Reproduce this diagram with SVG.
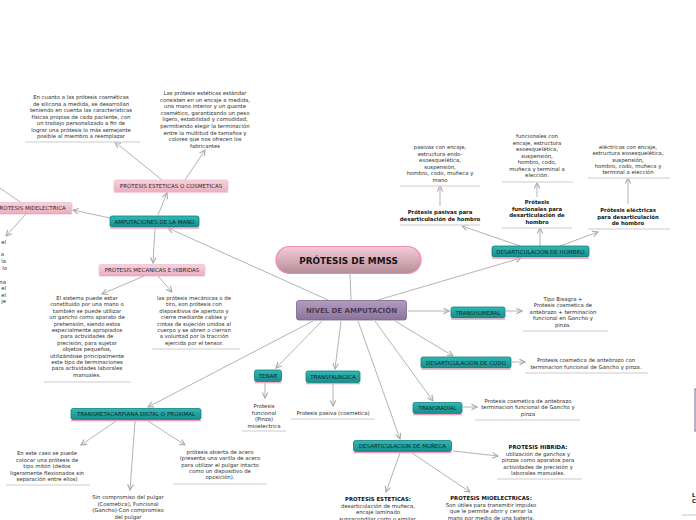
<svg xmlns="http://www.w3.org/2000/svg" width="696" height="520" viewBox="0 0 696 520">
<defs>
<linearGradient id="gt" x1="0" y1="0" x2="0" y2="1"><stop offset="0" stop-color="#2fbab6"/><stop offset="1" stop-color="#178d8b"/></linearGradient>
<linearGradient id="gp" x1="0" y1="0" x2="0" y2="1"><stop offset="0" stop-color="#f7d3dc"/><stop offset="1" stop-color="#eab0c0"/></linearGradient>
<linearGradient id="gm" x1="0" y1="0" x2="0" y2="1"><stop offset="0" stop-color="#f6ccd7"/><stop offset="1" stop-color="#b48c98"/></linearGradient>
<linearGradient id="gn" x1="0" y1="0" x2="0" y2="1"><stop offset="0" stop-color="#b39cc0"/><stop offset="1" stop-color="#8c739c"/></linearGradient>
<marker id="a" viewBox="0 0 10 10" refX="9" refY="5" markerWidth="7" markerHeight="7" orient="auto" markerUnits="userSpaceOnUse"><path d="M1,1 L9,5 L1,9" fill="none" stroke="#aaaaaa" stroke-width="1.6"/></marker>
</defs>
<style>
text{font-family:"DejaVu Sans","Liberation Sans",Arial,sans-serif;}
.c{stroke:#b4b4b4;stroke-width:1;fill:none;}
.ca{stroke:#b4b4b4;stroke-width:1;fill:none;marker-end:url(#a);}
.t{fill:url(#gt);stroke:#157f7d;stroke-width:0.8;}
.tl{stroke:#f29ab6;stroke-width:1.2;}
.tt{font-size:5.5px;fill:#0b2929;text-anchor:middle;}
.p{fill:url(#gp);stroke:#f0c0cf;stroke-width:0.8;}
.pl{stroke:#e79bb2;stroke-width:1;}
.pt{font-size:5.5px;fill:#33242a;text-anchor:middle;}
.b{font-size:5.35px;fill:#2e2e2e;text-anchor:middle;}
.bb{font-size:5.35px;fill:#111;text-anchor:middle;font-weight:bold;}
.u{stroke:#dcdcdc;stroke-width:1.6;}
</style>

<g id="connectors">
<line class="c" x1="350" y1="274" x2="351" y2="300"/>
<line class="ca" x1="328" y1="300" x2="168" y2="228"/>
<line class="ca" x1="378" y1="300" x2="521" y2="258"/>
<line class="ca" x1="408" y1="311" x2="449" y2="311"/>
<line class="ca" x1="395" y1="321" x2="453" y2="356"/>
<line class="ca" x1="375" y1="321" x2="433" y2="401"/>
<line class="ca" x1="358" y1="321" x2="400" y2="439"/>
<line class="ca" x1="341" y1="321" x2="335" y2="369"/>
<line class="ca" x1="322" y1="321" x2="276" y2="368"/>
<line class="ca" x1="313" y1="321" x2="148" y2="407"/>
<line class="ca" x1="158" y1="215" x2="167" y2="193"/>
<line class="ca" x1="110" y1="218" x2="73" y2="210"/>
<line class="ca" x1="155" y1="228" x2="153" y2="263"/>
<line class="ca" x1="162" y1="180" x2="115" y2="142"/>
<line class="ca" x1="185" y1="180" x2="205" y2="150"/>
<line class="c" x1="20" y1="202" x2="0" y2="188"/>
<line class="ca" x1="26" y1="214" x2="6" y2="236"/>
<line class="ca" x1="144" y1="276" x2="102" y2="294"/>
<line class="ca" x1="158" y1="276" x2="172" y2="292"/>
<line class="ca" x1="520" y1="246" x2="462" y2="226"/>
<line class="ca" x1="540" y1="246" x2="540" y2="228"/>
<line class="ca" x1="560" y1="246" x2="598" y2="232"/>
<line class="ca" x1="440" y1="206" x2="440" y2="186"/>
<line class="ca" x1="537" y1="197" x2="537" y2="183"/>
<line class="ca" x1="628" y1="204" x2="628" y2="178"/>
<line class="ca" x1="506" y1="311" x2="522" y2="311"/>
<line class="ca" x1="512" y1="362" x2="525" y2="362"/>
<line class="ca" x1="463" y1="407" x2="477" y2="407"/>
<line class="ca" x1="453" y1="451" x2="498" y2="456"/>
<line class="ca" x1="412" y1="453" x2="470" y2="492"/>
<line class="ca" x1="400" y1="453" x2="386" y2="492"/>
<line class="ca" x1="265" y1="383" x2="265" y2="398"/>
<line class="ca" x1="333" y1="384" x2="333" y2="406"/>
<line class="ca" x1="116" y1="421" x2="81" y2="445"/>
<line class="ca" x1="148" y1="421" x2="185" y2="445"/>
<line class="ca" x1="135" y1="421" x2="130" y2="490"/>
</g>

<g id="mmss">
<rect x="276" y="246.5" width="145" height="27" rx="13.5" fill="url(#gm)" stroke="#ee8db0" stroke-width="1.2"/>
<text x="348.5" y="264" text-anchor="middle" font-size="8.9px" font-weight="bold" fill="#1a1214">PRÓTESIS DE MMSS</text>
</g>

<g id="nivel">
<rect x="296.5" y="300.5" width="110" height="19.5" rx="2.5" fill="url(#gn)" stroke="#7b628c" stroke-width="0.8"/>
<text x="351.5" y="313.2" text-anchor="middle" font-size="7px" font-weight="bold" fill="#4a3d55">NIVEL DE AMPUTACIÓN</text>
</g>

<g id="amputaciones">
<rect class="t" x="110" y="216" width="89" height="11" rx="2"/><line class="tl" x1="110" y1="228.2" x2="199" y2="228.2"/>
<text class="tt" x="154.5" y="223.7">AMPUTACIONES DE LA MANO</text>
</g>

<g id="esteticas">
<rect class="p" x="114" y="180" width="114" height="11.5" rx="2"/><line class="pl" x1="114" y1="192" x2="228" y2="192"/>
<text class="pt" x="171" y="187.9">PRÓTESIS ESTETICAS O COSMETICAS</text>
</g>

<g id="midelectrica">
<rect class="p" x="-20" y="202.5" width="92" height="11" rx="2"/><line class="pl" x1="-20" y1="213.8" x2="72" y2="213.8"/>
<text class="pt" x="31" y="210.1">PRÓTESIS MIDELECTRICA</text>
</g>

<g id="mecanicas">
<rect class="p" x="99" y="264.5" width="106" height="11" rx="2"/><line class="pl" x1="99" y1="275.8" x2="205" y2="275.8"/>
<text class="pt" x="152" y="272.1">PRÓTESIS MECANICAS E HIBRIDAS</text>
</g>

<g id="txt-cosmeticas">
<text class="b" x="81" y="99"><tspan x="81">En cuanto a las  prótesis cosméticas</tspan><tspan x="81" dy="6.5">de silicona a medida,  se desarrollan</tspan><tspan x="81" dy="6.5">teniendo en cuenta las características</tspan><tspan x="81" dy="6.5">físicas propias de cada paciente, con</tspan><tspan x="81" dy="6.5">un trabajo personalizado a fin de</tspan><tspan x="81" dy="6.5">lograr una prótesis lo más semejante</tspan><tspan x="81" dy="6.5">posible al miembro a reemplazar</tspan></text>
<line class="u" x1="25" y1="142" x2="140" y2="142"/>
</g>

<g id="txt-estandar">
<text class="b" x="205" y="95"><tspan x="205">Las prótesis estéticas estándar</tspan><tspan x="205" dy="6.6">consisten en un encaje a medida,</tspan><tspan x="205" dy="6.6">una mano interior y un guante</tspan><tspan x="205" dy="6.6">cosmético, garantizando un peso</tspan><tspan x="205" dy="6.6">ligero, estabilidad y comodidad,</tspan><tspan x="205" dy="6.6">permitiendo elegir la terminación</tspan><tspan x="205" dy="6.6">entre la multitud de tamaños y</tspan><tspan x="205" dy="6.6">colores que nos ofrecen los</tspan><tspan x="205" dy="6.6">fabricantes</tspan></text>
</g>

<g id="txt-left-edge">
<text class="b" style="text-anchor:end"><tspan x="6" y="244">el</tspan><tspan x="4" y="256">a</tspan><tspan x="6" y="263">la</tspan><tspan x="7" y="270">lo</tspan><tspan x="6" y="284">na</tspan><tspan x="6" y="290">el</tspan><tspan x="6" y="297">el</tspan><tspan x="6" y="303">je</tspan></text>
</g>

<g id="txt-mec-left">
<text class="b" x="87" y="300"><tspan x="87">El sistema puede estar</tspan><tspan x="87" dy="6.4">constituido por una mano o</tspan><tspan x="87" dy="6.4">también se puede utilizar</tspan><tspan x="87" dy="6.4">un gancho como aparato de</tspan><tspan x="87" dy="6.4">prehensión, siendo estos</tspan><tspan x="87" dy="6.4">especialmente apropiados</tspan><tspan x="87" dy="6.4">para actividades de</tspan><tspan x="87" dy="6.4">precisión, para sujetar</tspan><tspan x="87" dy="6.4">objetos pequeños,</tspan><tspan x="87" dy="6.4">utilizándose principalmente</tspan><tspan x="87" dy="6.4">este tipo de terminaciones</tspan><tspan x="87" dy="6.4">para actividades laborales</tspan><tspan x="87" dy="6.4">manuales.</tspan></text>
<line class="u" x1="44" y1="382" x2="131" y2="382"/>
</g>

<g id="txt-mec-right">
<text class="b" x="194" y="300"><tspan x="194">las prótesis mecánicas o de</tspan><tspan x="194" dy="6.4">tiro, son prótesis con</tspan><tspan x="194" dy="6.4">dispositivos de apertura y</tspan><tspan x="194" dy="6.4">cierre mediante cables y</tspan><tspan x="194" dy="6.4">cintas de sujeción unidos al</tspan><tspan x="194" dy="6.4">cuerpo y se abren o cierran</tspan><tspan x="194" dy="6.4">a voluntad por la tracción</tspan><tspan x="194" dy="6.4">ejercida por el tensor.</tspan></text>
<line class="u" x1="152" y1="349" x2="240" y2="349"/>
</g>

<g id="hombro">
<rect class="t" x="492" y="246" width="97" height="11" rx="2"/><line class="tl" x1="492" y1="258.2" x2="589" y2="258.2"/>
<text class="tt" x="540.5" y="253.7">DESARTICULACIÓN DE HOMBRO</text>
</g>

<g id="pasivas">
<text class="bb"><tspan x="440" y="214">Prótesis pasivas para</tspan><tspan x="440" y="220.5">desarticulación de hombro</tspan></text>
<line class="u" x1="400" y1="225" x2="480" y2="225"/>
</g>
<g id="txt-pasivas">
<text class="b"><tspan x="440" y="149">pasivas con encaje,</tspan><tspan x="440" dy="6.5">estructura endo-</tspan><tspan x="440" dy="6.5">exoesquelética,</tspan><tspan x="440" dy="6.5">suspensión,</tspan><tspan x="440" dy="6.5">hombro, codo, muñeca y</tspan><tspan x="440" dy="6.5">mano</tspan></text>
<line class="u" x1="400" y1="186" x2="480" y2="186"/>
</g>

<g id="funcionales">
<text class="bb"><tspan x="537" y="204">Prótesis</tspan><tspan x="537" dy="6.5">funcionales para</tspan><tspan x="537" dy="6.5">desarticulación de</tspan><tspan x="537" dy="6.5">hombro</tspan></text>
<line class="u" x1="502" y1="228" x2="572" y2="228"/>
</g>
<g id="txt-funcionales">
<text class="b"><tspan x="537" y="138">funcionales con</tspan><tspan x="537" dy="6.5">encaje, estructura</tspan><tspan x="537" dy="6.5">exoesquelética,</tspan><tspan x="537" dy="6.5">suspensión,</tspan><tspan x="537" dy="6.5">hombro, codo,</tspan><tspan x="537" dy="6.5">muñeca y terminal a</tspan><tspan x="537" dy="6.5">elección.</tspan></text>
<line class="u" x1="502" y1="182" x2="573" y2="182"/>
</g>

<g id="electricas">
<text class="bb"><tspan x="628" y="212">Prótesis eléctricas</tspan><tspan x="628" dy="6.5">para desarticulación</tspan><tspan x="628" dy="6.5">de hombro</tspan></text>
<line class="u" x1="588" y1="229" x2="670" y2="229"/>
</g>
<g id="txt-electricas">
<text class="b"><tspan x="628" y="149">eléctricas con encaje,</tspan><tspan x="628" dy="6.3">estructura exoesquelética,</tspan><tspan x="628" dy="6.3">suspensión,</tspan><tspan x="628" dy="6.3">hombro, codo, muñeca y</tspan><tspan x="628" dy="6.3">terminal a elección</tspan></text>
<line class="u" x1="588" y1="178" x2="670" y2="178"/>
</g>

<g id="transhumeral">
<rect class="t" x="451" y="307" width="54" height="11" rx="2"/><line class="tl" x1="451" y1="319.2" x2="505" y2="319.2"/>
<text class="tt" x="478" y="314.7">TRANSHUMERAL</text>
</g>
<g id="txt-transhumeral">
<text class="b"><tspan x="563" y="301">Tipo Bisagra +</tspan><tspan x="563" dy="6.4">Protesis cosmetica de</tspan><tspan x="563" dy="6.4">antebrazo + terminacion</tspan><tspan x="563" dy="6.4">funcional en Gancho y</tspan><tspan x="563" dy="6.4">pinza.</tspan></text>
<line class="u" x1="523" y1="331" x2="608" y2="331"/>
</g>

<g id="codo">
<rect class="t" x="421" y="357" width="90" height="11" rx="2"/><line class="tl" x1="421" y1="369.2" x2="511" y2="369.2"/>
<text class="tt" x="466" y="364.7">DESARTICULACIÓN DE CODO</text>
</g>
<g id="txt-codo">
<text class="b"><tspan x="586" y="362">Protesis cosmetica de antebrazo con</tspan><tspan x="586" dy="6.8">terminacion funcional de Gancho y pinza.</tspan></text>
<line class="u" x1="525" y1="373" x2="648" y2="373"/>
</g>

<g id="transradial">
<rect class="t" x="413" y="402.5" width="49" height="11" rx="2"/><line class="tl" x1="413" y1="414.7" x2="462" y2="414.7"/>
<text class="tt" x="437.5" y="410.1">TRANSRADIAL</text>
</g>
<g id="txt-transradial">
<text class="b"><tspan x="528" y="403">Protesis cosmetica de antebrazo</tspan><tspan x="528" dy="6.4">terminacion funcional de Gancho y</tspan><tspan x="528" dy="6.4">pinza</tspan></text>
<line class="u" x1="475" y1="420" x2="580" y2="420"/>
</g>

<g id="muneca">
<rect class="t" x="353.5" y="440.5" width="98" height="11" rx="2"/><line class="tl" x1="353.5" y1="452.7" x2="451.5" y2="452.7"/>
<text class="tt" x="402.5" y="448.1">DESARTICULACION DE MUÑECA</text>
</g>
<g id="hibrida">
<text class="b"><tspan x="538" y="449" font-weight="bold" fill="#111">PROTESIS HIBRIDA:</tspan><tspan x="538" dy="6.6">utilización de ganchos y</tspan><tspan x="538" dy="6.6">pinzas como aparatos para</tspan><tspan x="538" dy="6.6">actividades de precisión y</tspan><tspan x="538" dy="6.6">laborales manuales.</tspan></text>
<line class="u" x1="497" y1="479" x2="582" y2="479"/>
</g>
<g id="mioelectricas">
<text class="b"><tspan x="491" y="500" font-weight="bold" fill="#111">PROTESIS MIOELECTRICAS:</tspan><tspan x="491" dy="6.5">Son útiles para transmitir impulso</tspan><tspan x="491" dy="6.5">que le permite abrir y cerrar la</tspan><tspan x="491" dy="6.5">mano por medio de una batería.</tspan></text>
</g>
<g id="esteticas-muneca">
<text class="b"><tspan x="378" y="501" font-weight="bold" fill="#111">PROTESIS ESTETICAS:</tspan><tspan x="378" dy="6.5">desarticulación de muñeca,</tspan><tspan x="378" dy="6.5">encaje laminado</tspan><tspan x="378" dy="6.5">supracondilar corto o similar.</tspan></text>
</g>

<g id="tenar">
<rect class="t" x="254.5" y="370" width="27" height="11.5" rx="2"/><line class="tl" x1="254.5" y1="382.7" x2="281.5" y2="382.7"/>
<text class="tt" x="268" y="377.9">TENAR</text>
</g>
<g id="txt-tenar">
<text class="b"><tspan x="264" y="408">Protesis</tspan><tspan x="264" dy="6.5">funcional</tspan><tspan x="264" dy="6.5">(Pinza)</tspan><tspan x="264" dy="6.5">mioelectrica</tspan></text>
<line class="u" x1="242" y1="431" x2="286" y2="431"/>
</g>

<g id="transfalngica">
<rect class="t" x="306" y="371" width="54" height="11.5" rx="2"/><line class="tl" x1="306" y1="383.7" x2="360" y2="383.7"/>
<text class="tt" x="333" y="378.9">TRANSFALNGICA</text>
</g>
<g id="txt-transfalngica">
<text class="b" x="333" y="415">Protesis pasiva (cosmetica)</text>
<line class="u" x1="291" y1="419" x2="375" y2="419"/>
</g>

<g id="transmetacarpiana">
<rect class="t" x="71" y="408.5" width="130" height="11" rx="2"/><line class="tl" x1="71" y1="420.7" x2="201" y2="420.7"/>
<text class="tt" x="136" y="416.1">TRANSMETACARPIANA DISTAL O PROXIMAL</text>
</g>
<g id="txt-miton">
<text class="b"><tspan x="47" y="455">En este caso se puede</tspan><tspan x="47" dy="6.5">colocar una prótesis de</tspan><tspan x="47" dy="6.5">tipo mitón (dedos</tspan><tspan x="47" dy="6.5">ligeramente flexionados sin</tspan><tspan x="47" dy="6.5">separación entre ellos)</tspan></text>
<line class="u" x1="6" y1="485" x2="90" y2="485"/>
</g>
<g id="txt-acero">
<text class="b"><tspan x="220" y="454">prótesis abierta de acero</tspan><tspan x="220" dy="6.3">(presenta una varilla de acero</tspan><tspan x="220" dy="6.3">para utilizar el pulgar intacto</tspan><tspan x="220" dy="6.3">como un dispositivo de</tspan><tspan x="220" dy="6.3">oposición).</tspan></text>
<line class="u" x1="173" y1="484" x2="267" y2="484"/>
</g>
<g id="txt-pulgar">
<text class="b"><tspan x="128" y="499">Sin compromiso del pulgar</tspan><tspan x="128" dy="6.5">(Cosmetica), Funcional</tspan><tspan x="128" dy="6.5">(Gancho)-Con compromiso</tspan><tspan x="128" dy="6.5">del pulgar</tspan></text>
</g>

<g id="right-edge">
<rect x="695" y="389" width="6" height="42" fill="#ffffff" stroke="#7b628c" stroke-width="1"/>
<text class="bb" style="text-anchor:start"><tspan x="692" y="497">L</tspan><tspan x="692" y="503">C</tspan></text>
<line class="u" x1="682" y1="515" x2="696" y2="515"/>
</g>
</svg>
